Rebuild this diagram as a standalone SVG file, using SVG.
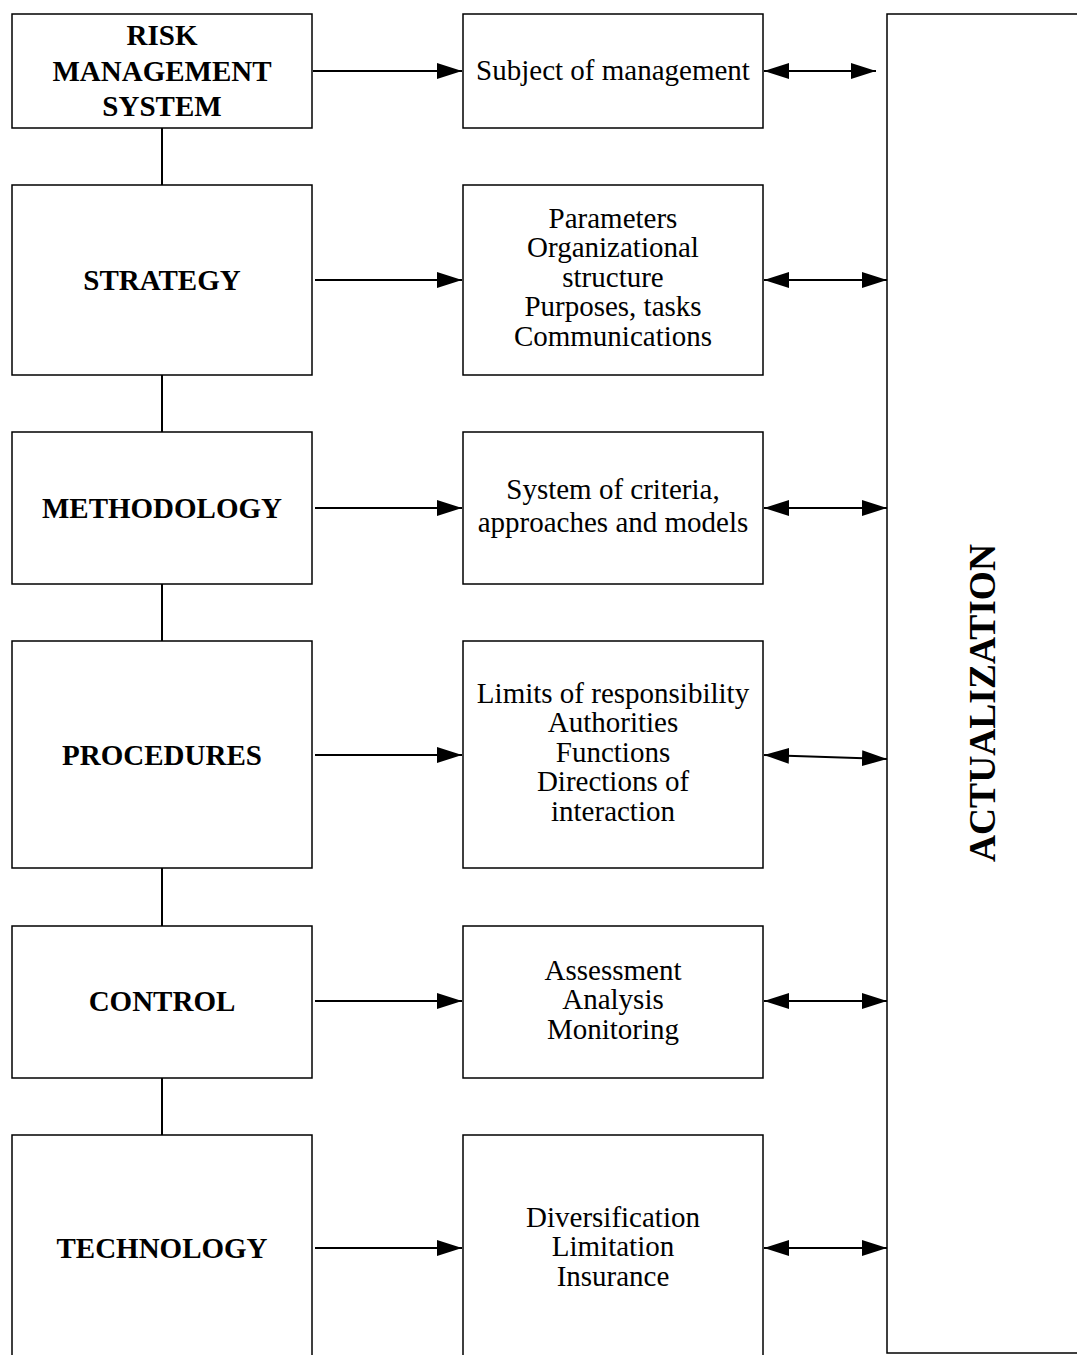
<svg xmlns="http://www.w3.org/2000/svg" width="1077" height="1355" viewBox="0 0 1077 1355">
<style>
.box{fill:#fff;stroke:#000;stroke-width:1.5}
.ln{stroke:#000;stroke-width:2;fill:none}
.b{font-family:"Liberation Serif","Times New Roman",serif;font-weight:bold;font-size:29px;text-anchor:middle;fill:#000}
.r{font-family:"Liberation Serif","Times New Roman",serif;font-size:29px;text-anchor:middle;fill:#000}
</style>
<defs>
<marker id="ah" viewBox="0 0 25 16" refX="25" refY="8" markerWidth="25" markerHeight="16" markerUnits="userSpaceOnUse" orient="auto-start-reverse">
<path d="M0,0 L25,8 L0,16 z" fill="#000"/>
</marker>
</defs>
<rect width="1077" height="1355" fill="#fff"/>
<g id="connectors">
<line class="ln" x1="162" y1="128" x2="162" y2="185"/>
<line class="ln" x1="162" y1="375" x2="162" y2="432"/>
<line class="ln" x1="162" y1="584" x2="162" y2="641"/>
<line class="ln" x1="162" y1="868" x2="162" y2="926"/>
<line class="ln" x1="162" y1="1078" x2="162" y2="1135"/>
<line class="ln" x1="313" y1="71" x2="462" y2="71" marker-end="url(#ah)"/>
<line class="ln" x1="315" y1="280" x2="462" y2="280" marker-end="url(#ah)"/>
<line class="ln" x1="315" y1="508" x2="462" y2="508" marker-end="url(#ah)"/>
<line class="ln" x1="315" y1="755" x2="462" y2="755" marker-end="url(#ah)"/>
<line class="ln" x1="315" y1="1001" x2="462" y2="1001" marker-end="url(#ah)"/>
<line class="ln" x1="315" y1="1248" x2="462" y2="1248" marker-end="url(#ah)"/>
<line class="ln" x1="764" y1="71" x2="876" y2="71" marker-start="url(#ah)" marker-end="url(#ah)"/>
<line class="ln" x1="764" y1="280" x2="887" y2="280" marker-start="url(#ah)" marker-end="url(#ah)"/>
<line class="ln" x1="764" y1="508" x2="887" y2="508" marker-start="url(#ah)" marker-end="url(#ah)"/>
<line class="ln" x1="764" y1="755" x2="887" y2="759" marker-start="url(#ah)" marker-end="url(#ah)"/>
<line class="ln" x1="764" y1="1001" x2="887" y2="1001" marker-start="url(#ah)" marker-end="url(#ah)"/>
<line class="ln" x1="764" y1="1248" x2="887" y2="1248" marker-start="url(#ah)" marker-end="url(#ah)"/>
</g>
<g id="rms"><rect class="box" x="12" y="14" width="300" height="114"/>
<text class="b" x="162" y="45">RISK</text><text class="b" x="162" y="81">MANAGEMENT</text><text class="b" x="162" y="116">SYSTEM</text></g>
<g id="strategy"><rect class="box" x="12" y="185" width="300" height="190"/><text class="b" x="162" y="290">STRATEGY</text></g>
<g id="methodology"><rect class="box" x="12" y="432" width="300" height="152"/><text class="b" x="162" y="518">METHODOLOGY</text></g>
<g id="procedures"><rect class="box" x="12" y="641" width="300" height="227"/><text class="b" x="162" y="765">PROCEDURES</text></g>
<g id="control"><rect class="box" x="12" y="926" width="300" height="152"/><text class="b" x="162" y="1011">CONTROL</text></g>
<g id="technology"><rect class="box" x="12" y="1135" width="300" height="240"/><text class="b" x="162" y="1258">TECHNOLOGY</text></g>
<g id="subject"><rect class="box" x="463" y="14" width="300" height="114"/><text class="r" x="613" y="80">Subject of management</text></g>
<g id="params"><rect class="box" x="463" y="185" width="300" height="190"/>
<text class="r" x="613" y="228">Parameters</text><text class="r" x="613" y="257">Organizational</text><text class="r" x="613" y="287">structure</text><text class="r" x="613" y="316">Purposes, tasks</text><text class="r" x="613" y="346">Communications</text></g>
<g id="criteria"><rect class="box" x="463" y="432" width="300" height="152"/>
<text class="r" x="613" y="499">System of criteria,</text><text class="r" x="613" y="532">approaches and models</text></g>
<g id="limits"><rect class="box" x="463" y="641" width="300" height="227"/>
<text class="r" x="613" y="703">Limits of responsibility</text><text class="r" x="613" y="732">Authorities</text><text class="r" x="613" y="762">Functions</text><text class="r" x="613" y="791">Directions of</text><text class="r" x="613" y="821">interaction</text></g>
<g id="assessment"><rect class="box" x="463" y="926" width="300" height="152"/>
<text class="r" x="613" y="980">Assessment</text><text class="r" x="613" y="1009">Analysis</text><text class="r" x="613" y="1039">Monitoring</text></g>
<g id="diversification"><rect class="box" x="463" y="1135" width="300" height="240"/>
<text class="r" x="613" y="1227">Diversification</text><text class="r" x="613" y="1256">Limitation</text><text class="r" x="613" y="1286">Insurance</text></g>
<g id="actualization"><rect class="box" x="887" y="14" width="220" height="1339"/>
<text class="b" style="font-size:37.5px" transform="translate(995,703) rotate(-90)">ACTUALIZATION</text></g>
</svg>
